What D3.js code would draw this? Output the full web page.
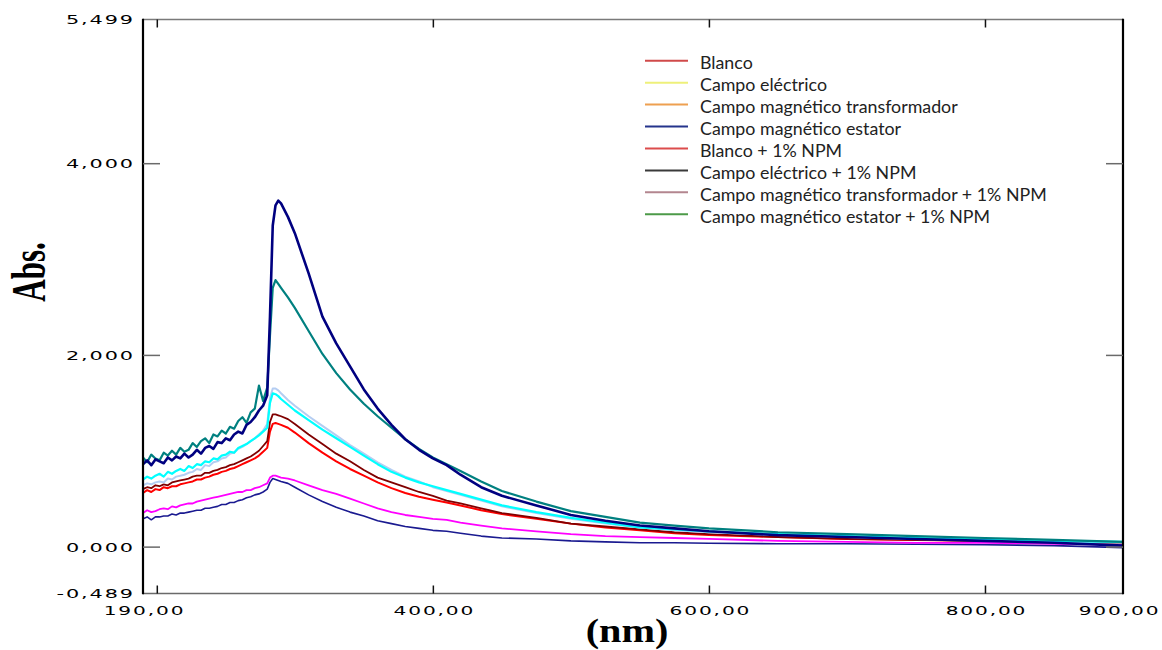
<!DOCTYPE html>
<html><head><meta charset="utf-8">
<script src="https://cdn.jsdelivr.net/npm/d3@7"></script>
<style>body{margin:0;background:#fff}svg{display:block}</style>
</head><body><svg id="c" width="1162" height="650"></svg>
<script>
// wavelength grid (nm)
const wl = [190,193,196,199,202,205,208,211,214,217,220,223,226,229,232,235,238,241,244,247,250,253,256,259,262,265,268,271,274,277,280,
  282,284,286,288,290,295,300,310,320,330,340,350,360,370,380,390,400,410,420,435,450,475,500,525,550,575,600,650,700,750,800,850,900];

// absorbance series (plot colours)
const navyBig = [0.86,0.90,0.85,0.91,0.89,0.87,0.93,0.90,0.94,0.92,0.97,0.93,0.96,1.01,0.97,1.03,1.05,1.02,1.09,1.08,1.13,1.11,1.17,1.20,1.18,1.27,1.30,1.35,1.42,1.47,1.58,
  2.40,3.35,3.56,3.61,3.58,3.44,3.27,2.85,2.40,2.12,1.88,1.64,1.44,1.27,1.12,1.01,0.92,0.85,0.75,0.62,0.53,0.43,0.33,0.27,0.22,0.19,0.16,0.12,0.10,0.08,0.06,0.04,0.01];
const teal = [0.93,0.88,0.96,0.92,0.90,0.98,0.95,1.00,0.96,1.03,0.99,1.01,1.08,1.04,1.10,1.13,1.08,1.17,1.15,1.21,1.18,1.25,1.23,1.31,1.35,1.29,1.40,1.44,1.68,1.52,1.66,
  2.20,2.70,2.78,2.74,2.70,2.60,2.49,2.25,2.01,1.81,1.64,1.49,1.36,1.24,1.12,1.02,0.93,0.86,0.79,0.68,0.58,0.47,0.37,0.31,0.25,0.22,0.19,0.15,0.13,0.11,0.09,0.07,0.05];
const lightBlue = [0.64,0.66,0.65,0.67,0.68,0.67,0.71,0.70,0.73,0.74,0.75,0.77,0.78,0.81,0.80,0.85,0.84,0.88,0.89,0.92,0.93,0.97,0.98,1.02,1.04,1.07,1.10,1.13,1.17,1.21,1.28,
  1.55,1.65,1.65,1.63,1.60,1.53,1.47,1.36,1.26,1.16,1.06,0.97,0.88,0.80,0.73,0.68,0.62,0.58,0.54,0.48,0.42,0.35,0.29,0.24,0.20,0.17,0.15,0.12,0.10,0.08,0.07,0.05,0.04];
const cyan = [0.70,0.73,0.71,0.74,0.76,0.73,0.78,0.76,0.79,0.81,0.79,0.84,0.82,0.86,0.85,0.89,0.88,0.92,0.91,0.95,0.96,0.99,0.98,1.03,1.05,1.07,1.10,1.13,1.16,1.20,1.24,
  1.50,1.60,1.59,1.57,1.54,1.48,1.42,1.32,1.22,1.13,1.04,0.95,0.86,0.78,0.72,0.67,0.63,0.59,0.55,0.49,0.43,0.36,0.30,0.25,0.20,0.18,0.16,0.13,0.11,0.09,0.08,0.06,0.05];
const maroon = [0.60,0.62,0.61,0.64,0.63,0.65,0.64,0.67,0.68,0.69,0.70,0.71,0.73,0.74,0.74,0.77,0.77,0.79,0.80,0.82,0.83,0.85,0.86,0.88,0.90,0.92,0.94,0.97,1.00,1.05,1.10,
  1.30,1.38,1.38,1.37,1.36,1.33,1.28,1.17,1.07,0.97,0.89,0.80,0.72,0.67,0.62,0.57,0.53,0.48,0.45,0.40,0.35,0.30,0.24,0.21,0.18,0.15,0.13,0.10,0.08,0.07,0.06,0.05,0.04];
const red = [0.56,0.59,0.57,0.60,0.59,0.62,0.61,0.63,0.63,0.65,0.66,0.67,0.68,0.70,0.70,0.72,0.73,0.75,0.76,0.78,0.79,0.81,0.82,0.84,0.86,0.88,0.90,0.92,0.95,0.99,1.03,
  1.20,1.28,1.29,1.28,1.27,1.24,1.19,1.08,0.98,0.89,0.81,0.74,0.67,0.61,0.56,0.52,0.49,0.46,0.43,0.38,0.34,0.29,0.24,0.20,0.17,0.14,0.12,0.10,0.08,0.07,0.06,0.05,0.04];
const magenta = [0.35,0.38,0.36,0.37,0.39,0.40,0.39,0.42,0.41,0.43,0.44,0.45,0.45,0.47,0.48,0.49,0.50,0.51,0.52,0.53,0.54,0.55,0.56,0.57,0.57,0.59,0.59,0.61,0.62,0.64,0.66,
  0.72,0.74,0.74,0.73,0.72,0.71,0.69,0.64,0.59,0.55,0.50,0.45,0.40,0.36,0.33,0.31,0.29,0.28,0.25,0.22,0.19,0.16,0.13,0.11,0.10,0.09,0.08,0.06,0.05,0.04,0.04,0.03,0.02];
const navyThin = [0.29,0.31,0.28,0.31,0.31,0.32,0.32,0.34,0.33,0.35,0.35,0.36,0.37,0.38,0.38,0.40,0.40,0.41,0.42,0.44,0.44,0.46,0.46,0.48,0.49,0.51,0.52,0.54,0.55,0.57,0.60,
  0.67,0.71,0.70,0.69,0.68,0.66,0.62,0.54,0.47,0.41,0.36,0.32,0.27,0.24,0.21,0.19,0.17,0.16,0.14,0.11,0.09,0.08,0.06,0.05,0.04,0.04,0.035,0.03,0.03,0.025,0.02,0.01,-0.01];

// tick labels
const xTickValues = [190,400,600,800,900];
const xTickLabels = ["190,00","400,00","600,00","800,00","900,00"];
const xTickMarks = [200,400,600,800];
const yTickValues = [-0.489,0,2,4,5.499];
const yTickLabels = ["-0,489","0,000","2,000","4,000","5,499"];
const yTickMarks = [0,2,4];

// legend
const legendLabels = ["Blanco","Campo eléctrico","Campo magnético transformador","Campo magnético estator","Blanco + 1% NPM","Campo eléctrico + 1% NPM","Campo magnético transformador + 1% NPM","Campo magnético estator + 1% NPM"];
const legendColors = ["#d04a4a","#eef07a","#eea050","#25348c","#dc4c4c","#3a3a3a","#b3868f","#4c9a48"];

const svg = d3.select('#c');
const L = 143, R = 1123, T = 19.5, B = 593.5;
const x = d3.scaleLinear().domain([190,900]).range([L,R]);
const y = d3.scaleLinear().domain([-0.489,5.499]).range([B,T]);

svg.append('clipPath').attr('id','clip').append('rect')
  .attr('x',L).attr('y',T).attr('width',R-L).attr('height',B-T);

// series (drawing order bottom to top)
const series = [
  {v:navyThin, c:"#1a1a90", w:1.6},
  {v:magenta, c:"#ff00ff", w:1.8},
  {v:red, c:"#ff0000", w:2},
  {v:maroon, c:"#800000", w:1.8},
  {v:lightBlue, c:"#b4cdf2", w:2},
  {v:cyan, c:"#00ffff", w:2.2},
  {v:teal, c:"#008080", w:2.2},
  {v:navyBig, c:"#000080", w:2.6}
];
const line = d3.line().x((d,i)=>x(wl[i])).y(d=>y(d));
const gl = svg.append('g').attr('clip-path','url(#clip)');
series.forEach(s=>{
  gl.append('path').attr('d',line(s.v)).attr('fill','none')
    .attr('stroke',s.c).attr('stroke-width',s.w).attr('stroke-linejoin','round');
});

// frame
svg.append('line').attr('x1',L).attr('x2',R).attr('y1',T).attr('y2',T).attr('stroke','#7a7a7a').attr('stroke-width',1.6);
svg.append('line').attr('x1',L).attr('x2',R).attr('y1',B).attr('y2',B).attr('stroke','#6a6a6a').attr('stroke-width',1.6);
svg.append('line').attr('x1',L).attr('x2',L).attr('y1',T-0.8).attr('y2',B+0.8).attr('stroke','#000').attr('stroke-width',2.2);
svg.append('line').attr('x1',R).attr('x2',R).attr('y1',T-0.8).attr('y2',B+0.8).attr('stroke','#000').attr('stroke-width',2.2);

// y tick marks (left inside, right inside)
const yMarksL = svg.append('g').attr('transform',`translate(${L},0)`)
  .call(d3.axisLeft(y).tickValues(yTickMarks).tickSize(-17).tickFormat(''));
yMarksL.select('.domain').remove();
yMarksL.selectAll('line').attr('stroke','#6a6a6a').attr('stroke-width',1.5);
const yMarksR = svg.append('g').attr('transform',`translate(${R},0)`)
  .call(d3.axisRight(y).tickValues(yTickMarks).tickSize(-17).tickFormat(''));
yMarksR.select('.domain').remove();
yMarksR.selectAll('line').attr('stroke','#6a6a6a').attr('stroke-width',1.5);

// x tick marks (bottom and top, inside)
const xMarksB = svg.append('g').attr('transform',`translate(0,${B})`)
  .call(d3.axisBottom(x).tickValues(xTickMarks).tickSize(-8).tickFormat(''));
xMarksB.select('.domain').remove();
xMarksB.selectAll('line').attr('stroke','#111').attr('stroke-width',1.5);
const xMarksT = svg.append('g').attr('transform',`translate(0,${T})`)
  .call(d3.axisTop(x).tickValues(xTickMarks).tickSize(-8).tickFormat(''));
xMarksT.select('.domain').remove();
xMarksT.selectAll('line').attr('stroke','#111').attr('stroke-width',1.5);

const labelFont = t => t.style('font-family','"DejaVu Sans", sans-serif').style('font-size','13px')
  .style('letter-spacing','1.2px').attr('fill','#000');

// y labels
const yLab = svg.append('g').attr('transform',`translate(${L},0)`)
  .call(d3.axisLeft(y).tickValues(yTickValues).tickSize(0).tickFormat((d,i)=>yTickLabels[i]));
yLab.select('.domain').remove();
yLab.selectAll('text').attr('x',0).attr('dy',null)
  .attr('dominant-baseline','central')
  .attr('transform','translate(-8,0) scale(1.6,1)')
  .call(labelFont);

// x labels
const xLab = svg.append('g').attr('transform',`translate(0,${B})`)
  .call(d3.axisBottom(x).tickValues(xTickValues).tickSize(0).tickFormat((d,i)=>xTickLabels[i]));
xLab.select('.domain').remove();
xLab.selectAll('text').attr('y',0).attr('dy',null)
  .attr('transform',(d,i)=> i===xTickValues.length-1 ? 'translate(-4,21.5) scale(1.55,1)' : 'translate(1,21.5) scale(1.55,1)')
  .call(labelFont);

// axis titles
svg.append('text').text('Abs.')
  .attr('transform','translate(45,272) scale(1.6,1) rotate(-90)')
  .attr('text-anchor','middle')
  .style('font-family','"Liberation Serif", serif').style('font-weight','bold').style('font-size','31px');
svg.append('text').text('(nm)')
  .attr('transform','translate(627,642) scale(1.22,1)')
  .attr('text-anchor','middle')
  .style('font-family','"Liberation Serif", serif').style('font-weight','bold').style('font-size','33px');

// legend
const lg = svg.append('g');
const rowY = d3.scaleLinear().domain([0,7]).range([60.7,214.3]);
const items = lg.selectAll('g').data(legendLabels).join('g')
  .attr('transform',(d,i)=>`translate(0,${rowY(i)})`);
items.append('line').attr('x1',645).attr('x2',688).attr('y1',0).attr('y2',0)
  .attr('stroke',(d,i)=>legendColors[i]).attr('stroke-width',2);
const lt = items.append('text').text(d=>d).attr('x',700).attr('y',8.3)
  .style('font-family','Lato, "Open Sans", sans-serif').style('font-size','15px').attr('fill','#222');
// fit longest label width to the reference
let maxW = 0; lt.each(function(){maxW=Math.max(maxW,this.getComputedTextLength());});
const fs = 15*347/maxW;
lt.style('font-size',fs.toFixed(2)+'px');
</script>
</body></html>
